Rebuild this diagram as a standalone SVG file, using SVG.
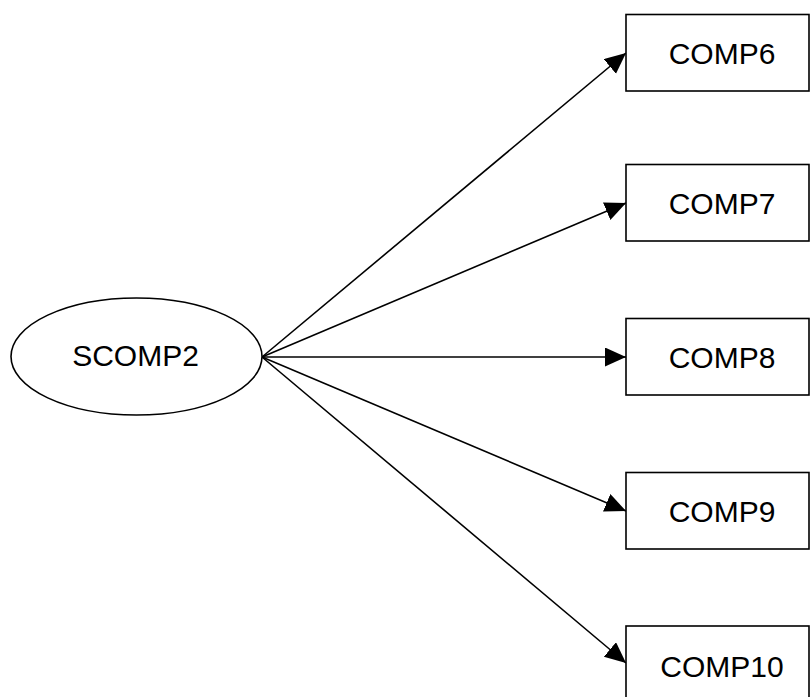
<svg xmlns="http://www.w3.org/2000/svg" width="810" height="697" viewBox="0 0 810 697">
  <style>
    .node { fill: #ffffff; stroke: #000000; stroke-width: 1.6; }
    .lbl { font-family: "Liberation Sans", Arial, sans-serif; font-size: 30px; fill: #000000; text-anchor: middle; }
    .edge { stroke: #000000; stroke-width: 1.6; fill: none; marker-end: url(#arrow); }
  </style>
  <defs>
    <marker id="arrow" markerUnits="userSpaceOnUse" markerWidth="22" markerHeight="20" refX="21" refY="9.5" orient="auto">
      <path d="M0,0 L21,9.5 L0,19 Z" fill="#000000"/>
    </marker>
  </defs>
  <rect x="0" y="0" width="810" height="697" fill="#ffffff"/>
  <g id="connectors">
    <line class="edge" x1="262" y1="357" x2="626" y2="53"/>
    <line class="edge" x1="262" y1="357" x2="626" y2="203"/>
    <line class="edge" x1="262" y1="357" x2="626" y2="357"/>
    <line class="edge" x1="262" y1="357" x2="626" y2="511"/>
    <line class="edge" x1="262" y1="357" x2="626" y2="663"/>
  </g>
  <g id="SCOMP2">
    <ellipse class="node" cx="136.5" cy="356.5" rx="125.5" ry="58.5"/>
    <text class="lbl" x="135.5" y="365.5">SCOMP2</text>
  </g>
  <g id="COMP6">
    <rect class="node" x="626" y="14.5" width="183" height="76.5"/>
    <text class="lbl" x="722" y="63.5">COMP6</text>
  </g>
  <g id="COMP7">
    <rect class="node" x="626" y="164.5" width="183" height="76.5"/>
    <text class="lbl" x="722" y="213.5">COMP7</text>
  </g>
  <g id="COMP8">
    <rect class="node" x="626" y="318.5" width="183" height="76.5"/>
    <text class="lbl" x="722" y="367.5">COMP8</text>
  </g>
  <g id="COMP9">
    <rect class="node" x="626" y="472.5" width="183" height="76.5"/>
    <text class="lbl" x="722" y="521.5">COMP9</text>
  </g>
  <g id="COMP10">
    <rect class="node" x="626" y="626" width="183" height="76.5"/>
    <text class="lbl" x="722" y="676.5">COMP10</text>
  </g>
</svg>
